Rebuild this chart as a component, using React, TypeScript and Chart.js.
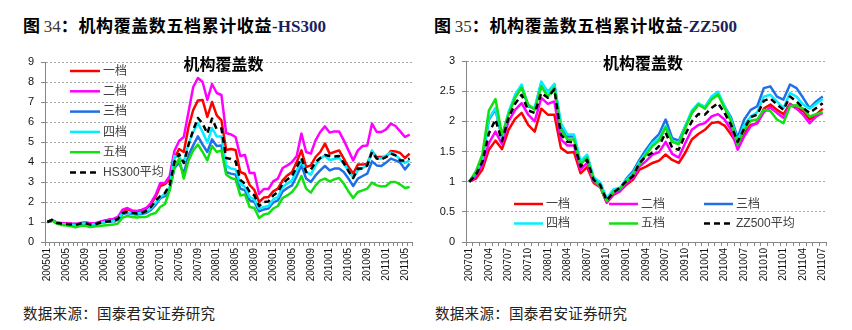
import React, { useEffect, useRef } from 'react';
import { Chart, registerables } from 'chart.js';

Chart.register(...registerables);

// ---------- data: left chart (HS300) ----------
const hsMonths = [
  '200501','200502','200503','200504','200505','200506','200507','200508','200509','200510','200511','200512',
  '200601','200602','200603','200604','200605','200606','200607','200608','200609','200610','200611','200612',
  '200701','200702','200703','200704','200705','200706','200707','200708','200709','200710','200711','200712',
  '200801','200802','200803','200804','200805','200806','200807','200808','200809','200810','200811','200812',
  '200901','200902','200903','200904','200905','200906','200907','200908','200909','200910','200911','200912',
  '201001','201002','201003','201004','201005','201006','201007','201008','201009','201010','201011','201012',
  '201101','201102','201103','201104','201105','201106'
];
const hsTier1 = [1.00,1.10,0.96,0.93,0.92,0.90,0.88,0.93,0.96,0.92,0.90,0.98,1.05,1.10,1.12,1.20,1.55,1.65,1.55,1.53,1.58,1.65,1.90,2.25,2.80,2.90,3.10,4.20,4.65,4.50,5.75,6.60,7.08,7.10,6.25,7.00,6.33,6.08,4.60,4.65,4.60,3.50,3.40,2.85,2.60,2.00,2.22,2.25,2.53,2.67,3.08,3.33,3.50,4.00,4.58,3.75,3.83,4.25,4.50,4.92,4.42,4.50,4.58,4.17,3.75,3.42,3.87,3.87,3.92,4.53,4.25,4.25,4.25,4.55,4.53,4.45,4.20,4.42];
const hsTier2 = [1.00,1.10,0.98,0.95,0.93,0.92,0.90,0.95,0.98,0.95,0.93,1.00,1.07,1.12,1.15,1.25,1.62,1.70,1.58,1.55,1.60,1.70,1.95,2.35,2.95,2.95,3.30,4.55,5.05,5.25,6.50,7.75,8.20,8.00,7.10,7.90,7.45,7.35,5.45,5.38,5.25,4.30,4.35,3.45,3.45,2.40,2.65,2.65,3.03,3.17,3.70,3.83,4.00,4.30,5.42,4.50,4.42,5.08,5.50,5.78,5.47,5.53,5.53,5.08,4.58,4.08,4.58,4.80,4.83,5.92,5.50,5.50,5.63,5.92,5.80,5.53,5.25,5.37];
const hsTier3 = [1.00,1.10,0.95,0.90,0.88,0.86,0.83,0.90,0.92,0.87,0.86,0.93,0.98,1.02,1.04,1.10,1.40,1.45,1.40,1.38,1.40,1.45,1.60,1.85,2.20,2.30,2.60,3.70,3.95,3.42,4.33,4.83,5.28,4.87,4.50,5.13,4.80,4.83,3.50,3.42,3.37,2.67,2.58,2.08,2.00,1.53,1.63,1.67,1.97,2.08,2.53,2.70,2.83,3.30,3.83,3.17,3.00,3.33,3.58,3.80,3.58,3.67,3.67,3.50,3.17,2.80,3.17,3.30,3.42,4.03,3.83,3.80,3.97,4.17,4.08,3.97,3.63,3.92];
const hsTier4 = [1.00,1.10,0.95,0.90,0.88,0.86,0.84,0.90,0.93,0.88,0.87,0.94,0.99,1.03,1.05,1.12,1.45,1.48,1.42,1.42,1.45,1.52,1.68,1.95,2.25,2.40,2.75,4.30,4.25,3.97,4.92,5.50,5.95,5.50,4.97,5.70,5.28,5.28,3.83,3.67,3.63,2.92,2.75,2.25,2.13,1.67,1.75,1.80,2.13,2.25,2.75,2.92,3.08,3.58,4.08,3.50,3.37,3.83,4.17,4.33,4.10,4.15,4.20,3.90,3.58,3.20,3.58,3.70,3.83,4.58,4.17,4.17,4.33,4.47,4.33,4.13,3.95,4.08];
const hsTier5 = [1.00,1.08,0.92,0.85,0.82,0.80,0.73,0.80,0.82,0.75,0.77,0.80,0.83,0.85,0.87,0.92,1.22,1.30,1.25,1.22,1.25,1.25,1.38,1.45,1.75,1.90,2.60,3.75,4.15,3.17,4.08,4.58,4.87,4.50,4.08,4.80,4.50,4.58,3.38,3.20,3.13,2.33,2.37,1.75,1.70,1.20,1.38,1.42,1.67,1.80,2.20,2.33,2.50,2.80,3.30,2.67,2.47,2.83,3.08,3.17,3.03,3.13,3.20,2.92,2.53,2.20,2.50,2.58,2.67,2.97,2.83,2.78,2.80,3.00,3.00,2.87,2.70,2.75];
const hsAvg   = [1.00,1.10,0.95,0.92,0.90,0.88,0.85,0.92,0.95,0.88,0.87,0.95,1.00,1.03,1.05,1.15,1.45,1.50,1.45,1.43,1.45,1.55,1.75,2.05,2.30,2.45,2.85,4.00,4.40,3.95,4.85,5.60,6.20,5.92,5.42,6.17,5.63,5.67,4.20,4.15,4.03,3.10,2.92,2.50,2.33,1.80,2.00,2.03,2.33,2.50,2.92,3.13,3.30,3.75,4.20,3.50,3.62,4.00,4.20,4.35,4.30,4.28,4.30,3.95,3.55,3.20,3.67,3.67,3.83,4.50,4.17,4.13,4.25,4.42,4.33,4.08,4.08,4.17];

// ---------- data: right chart (ZZ500) ----------
const zzMonths = [
  '200701','200702','200703','200704','200705','200706','200707','200708','200709','200710','200711','200712',
  '200801','200802','200803','200804','200805','200806','200807','200808','200809','200810','200811','200812',
  '200901','200902','200903','200904','200905','200906','200907','200908','200909','200910','200911','200912',
  '201001','201002','201003','201004','201005','201006','201007','201008','201009','201010','201011','201012',
  '201101','201102','201103','201104','201105','201106','201107'
];
const zzTier1 = [1.00,1.05,1.20,1.53,1.68,1.54,1.86,2.04,2.14,1.94,1.83,2.21,2.11,2.11,1.56,1.48,1.49,1.14,1.24,0.98,0.91,0.65,0.78,0.84,0.95,1.03,1.20,1.25,1.31,1.35,1.45,1.36,1.31,1.48,1.70,1.79,1.86,1.97,1.99,1.93,1.78,1.61,1.81,1.94,1.97,2.21,2.28,2.19,2.12,2.29,2.22,2.17,2.03,2.11,2.21];
const zzTier2 = [1.00,1.09,1.28,1.64,1.83,1.62,2.00,2.19,2.30,2.11,2.00,2.39,2.29,2.33,1.70,1.60,1.60,1.20,1.31,1.00,0.92,0.66,0.80,0.84,0.98,1.06,1.25,1.34,1.45,1.49,1.66,1.46,1.40,1.64,1.86,1.94,1.97,2.08,2.12,2.03,1.86,1.53,1.75,1.92,1.97,2.15,2.23,2.14,2.06,2.28,2.21,2.11,1.97,2.08,2.14];
const zzTier3 = [1.00,1.14,1.36,2.03,2.20,1.72,2.14,2.41,2.58,2.25,2.21,2.64,2.49,2.61,1.94,1.75,1.75,1.31,1.42,1.06,0.98,0.71,0.85,0.87,1.05,1.17,1.36,1.53,1.68,1.79,2.03,1.72,1.68,1.92,2.14,2.28,2.23,2.39,2.45,2.25,2.06,1.73,2.03,2.19,2.25,2.55,2.58,2.41,2.36,2.61,2.55,2.39,2.22,2.33,2.41];
const zzTier4 = [1.00,1.15,1.38,2.05,2.22,1.73,2.15,2.44,2.61,2.26,2.22,2.66,2.48,2.62,1.97,1.78,1.78,1.34,1.45,1.07,0.99,0.72,0.87,0.90,1.03,1.14,1.33,1.48,1.64,1.72,1.92,1.68,1.64,1.92,2.18,2.30,2.24,2.41,2.49,2.25,2.03,1.68,1.94,2.08,2.15,2.41,2.44,2.33,2.22,2.47,2.41,2.28,2.21,2.29,2.37];
const zzTier5 = [1.00,1.17,1.45,2.18,2.37,1.78,2.11,2.39,2.56,2.28,2.19,2.58,2.41,2.56,1.86,1.70,1.70,1.28,1.40,1.03,0.92,0.68,0.83,0.88,1.00,1.12,1.28,1.45,1.59,1.68,1.90,1.66,1.62,1.89,2.14,2.28,2.21,2.36,2.44,2.22,2.00,1.61,1.86,2.01,2.03,2.19,2.17,2.03,1.97,2.25,2.27,2.21,2.08,2.12,2.15];
const zzAvg   = [1.00,1.11,1.33,1.80,2.03,1.67,2.06,2.29,2.44,2.18,2.14,2.47,2.39,2.53,1.78,1.66,1.65,1.25,1.36,1.03,0.95,0.69,0.82,0.90,1.01,1.09,1.31,1.42,1.48,1.59,1.81,1.56,1.53,1.78,2.00,2.12,2.11,2.22,2.30,2.14,1.94,1.66,1.88,2.07,2.11,2.34,2.38,2.28,2.19,2.41,2.33,2.22,2.14,2.22,2.30];

const tierNames = ['一档', '二档', '三档', '四档', '五档'];
const tierColors = ['#ff0000', '#ff00ff', '#1f6fe6', '#00f0ff', '#11e011'];
const hsAvgName = 'HS300平均';
const zzAvgName = 'ZZ500平均';
const chartTitle = '机构覆盖数';

const CJK = '"Noto Sans CJK SC", sans-serif';
const LAT = '"Liberation Sans", "Noto Sans CJK SC", sans-serif';
const DASH = [6, 4];

const insideLegend = {
  id: 'insideLegend',
  afterDatasetsDraw(chart: any, _args: any, opts: any) {
    if (!opts || !opts.enabled) return;
    const { ctx, chartArea } = chart;
    const ds = chart.data.datasets;
    ctx.save();
    ds.forEach((d: any, k: number) => {
      const col = k % opts.cols;
      const row = Math.floor(k / opts.cols);
      const x0 = chartArea.left + opts.dx + col * opts.colGap;
      const y0 = (opts.fromBottom ? chartArea.bottom : chartArea.top) + opts.dy + row * opts.rowGap;
      ctx.beginPath();
      ctx.strokeStyle = d.borderColor;
      ctx.lineWidth = 2.5;
      ctx.setLineDash(d.borderDash || []);
      ctx.moveTo(x0, y0);
      ctx.lineTo(x0 + opts.lineLen, y0);
      ctx.stroke();
      ctx.setLineDash([]);
      ctx.fillStyle = '#404040';
      ctx.font = '12px ' + LAT;
      ctx.textBaseline = 'middle';
      ctx.textAlign = 'left';
      ctx.fillText(d.label, x0 + opts.lineLen + 3, y0 + 0.5);
    });
    ctx.restore();
  },
};

const innerTitle = {
  id: 'innerTitle',
  afterDraw(chart: any, _args: any, opts: any) {
    if (!opts || !opts.text) return;
    const { ctx, chartArea } = chart;
    ctx.save();
    ctx.font = 'bold 16px ' + CJK;
    ctx.fillStyle = '#000';
    ctx.textAlign = 'center';
    ctx.textBaseline = 'middle';
    ctx.fillText(opts.text, (chartArea.left + chartArea.right) / 2 + opts.dx, chartArea.top + opts.dy);
    ctx.restore();
  },
};

function buildConfig(p: {
  labels: string[]; series: number[][]; avgName: string; yMax: number; yStep: number;
  every: number; padTop: number; padRight: number; yW: number; xH: number; legend: any; titleDx: number;
}) {
  const datasets: any[] = p.series.map((vals, k) => {
    const isAvg = k === 5;
    return {
      label: isAvg ? p.avgName : tierNames[k],
      data: vals,
      borderColor: isAvg ? '#000000' : tierColors[k],
      backgroundColor: isAvg ? '#000000' : tierColors[k],
      borderWidth: 2.5,
      borderDash: isAvg ? DASH : [],
      pointRadius: 0,
      tension: 0,
      fill: false,
      borderJoinStyle: 'round',
      order: 5 - k,
    };
  });
  return {
    type: 'line',
    data: { labels: p.labels, datasets },
    plugins: [insideLegend, innerTitle],
    options: {
      responsive: false,
      animation: false,
      events: [],
      layout: { padding: { left: 0, right: p.padRight, top: p.padTop, bottom: 0 } },
      plugins: {
        legend: { display: false },
        tooltip: { enabled: false },
        insideLegend: p.legend,
        innerTitle: { text: chartTitle, dx: p.titleDx, dy: 2 },
      },
      scales: {
        x: {
          type: 'category',
          offset: true,
          grid: { display: true, drawOnChartArea: false, offset: true, tickLength: 4, color: '#868686', tickColor: '#868686', lineWidth: 1 },
          border: { display: true, color: '#868686', width: 1 },
          ticks: {
            autoSkip: false, maxRotation: 90, minRotation: 90, padding: 2, color: '#111',
            font: { family: LAT, size: 10 },
            callback: (_v: any, i: number) => (i % p.every === 0 ? p.labels[i] : ''),
          },
          afterFit: (s: any) => { s.height = p.xH; },
        },
        y: {
          min: 0, max: p.yMax,
          ticks: {
            stepSize: p.yStep, padding: 7, color: '#111', font: { family: LAT, size: 11 },
            callback: (v: any) => String(Math.round(Number(v) * 100) / 100),
          },
          grid: { color: '#a8a8a8', tickColor: '#868686', tickLength: 4, tickBorderDash: [], lineWidth: 1 },
          border: { display: true, color: '#868686', width: 1, dash: [2, 2] },
          afterFit: (s: any) => { s.width = p.yW; },
        },
      },
    },
  };
}

function LineChart(props: { cfg: any; width: number; height: number; style: React.CSSProperties }) {
  const ref = useRef<HTMLCanvasElement | null>(null);
  useEffect(() => {
    if (!ref.current) return;
    const c = new Chart(ref.current, props.cfg);
    return () => c.destroy();
  }, []);
  return <canvas ref={ref} width={props.width} height={props.height} style={{ position: 'absolute', width: props.width, height: props.height, ...props.style }} />;
}

const titleBase: React.CSSProperties = {
  position: 'absolute', top: 16, fontSize: 17, lineHeight: '18px', whiteSpace: 'nowrap', color: '#000',
};
const srcBase: React.CSSProperties = {
  position: 'absolute', top: 305, fontSize: 14.5, lineHeight: '16px', whiteSpace: 'nowrap', color: '#222',
  fontFamily: CJK, letterSpacing: '0.3px',
};

function Title(props: { num: string; suffix: string; left: number }) {
  return (
    <div style={{ ...titleBase, left: props.left }}>
      <span style={{ fontFamily: CJK, fontWeight: 700 }}>图 </span>
      <span style={{ fontFamily: '"Liberation Serif", serif', color: '#3c3628' }}>{props.num}</span>
      <span style={{ fontFamily: CJK, fontWeight: 700, letterSpacing: '0.6px' }}>：机构覆盖数五档累计收益</span>
      <span style={{ fontFamily: '"Liberation Serif", serif', fontWeight: 700, color: '#1b1f5e' }}>{props.suffix}</span>
    </div>
  );
}

export default function App() {
  const leftCfg = buildConfig({
    labels: hsMonths,
    series: [hsTier1, hsTier2, hsTier3, hsTier4, hsTier5, hsAvg],
    avgName: hsAvgName, yMax: 9, yStep: 1, every: 4,
    padTop: 22, padRight: 14, yW: 45, xH: 58, titleDx: -5,
    legend: { enabled: true, cols: 1, dx: 25, dy: 9, colGap: 0, rowGap: 20.3, lineLen: 30, fromBottom: false },
  });
  const rightCfg = buildConfig({
    labels: zzMonths,
    series: [zzTier1, zzTier2, zzTier3, zzTier4, zzTier5, zzAvg],
    avgName: zzAvgName, yMax: 3, yStep: 0.5, every: 3,
    padTop: 21, padRight: 26, yW: 40, xH: 58, titleDx: -3,
    legend: { enabled: true, cols: 3, dx: 48, dy: -38, colGap: 95, rowGap: 19.5, lineLen: 29, fromBottom: true },
  });
  return (
    <div style={{ position: 'absolute', left: 0, top: 0, width: 852, height: 330, background: '#fff', overflow: 'hidden' }}>
      <Title num="34" suffix="-HS300" left={23} />
      <Title num="35" suffix="-ZZ500" left={434} />
      <LineChart cfg={leftCfg} width={426} height={260} style={{ left: 0, top: 40 }} />
      <LineChart cfg={rightCfg} width={426} height={260} style={{ left: 426, top: 40 }} />
      <div style={{ ...srcBase, left: 23 }}>数据来源：国泰君安证券研究</div>
      <div style={{ ...srcBase, left: 435 }}>数据来源：国泰君安证券研究</div>
    </div>
  );
}
